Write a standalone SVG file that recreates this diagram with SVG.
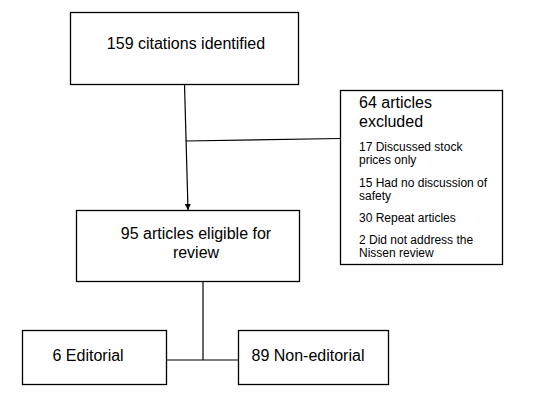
<svg xmlns="http://www.w3.org/2000/svg" width="536" height="420" viewBox="0 0 536 420">
<style>
.box{fill:#fff;stroke:#000;stroke-width:1.3}
.ln{fill:none;stroke:#000;stroke-width:1.2}
.t16{font-family:"Liberation Sans",Arial,sans-serif;font-size:16px;fill:#000}
.t12{font-family:"Liberation Sans",Arial,sans-serif;font-size:12px;fill:#000}
</style>
<defs>
<marker id="arr" viewBox="0 0 10 10" refX="10" refY="5" markerWidth="6" markerHeight="6" orient="auto" markerUnits="userSpaceOnUse">
<path d="M0,0 L10,5 L0,10 z" fill="#000"/>
</marker>
</defs>
<rect width="536" height="420" fill="#fff"/>
<g id="connectors">
<line class="ln" x1="184.5" y1="84" x2="188" y2="210" marker-end="url(#arr)"/>
<line class="ln" x1="185.5" y1="141" x2="340.5" y2="138.5"/>
<line class="ln" x1="203" y1="282" x2="203" y2="360"/>
<line class="ln" x1="166.5" y1="360" x2="238.5" y2="360"/>
</g>
<g id="n1">
<rect class="box" x="70.5" y="12.5" width="228" height="72"/>
<text class="t16" x="186" y="49" text-anchor="middle">159 citations identified</text>
</g>
<g id="n2">
<rect class="box" x="340.5" y="90.5" width="162" height="174"/>
<text class="t16" x="359" y="108">64 articles</text>
<text class="t16" x="359" y="127">excluded</text>
<text class="t12" x="359" y="150.5">17 Discussed stock</text>
<text class="t12" x="359" y="164">prices only</text>
<text class="t12" x="359" y="186.5">15 Had no discussion of</text>
<text class="t12" x="359" y="199.5">safety</text>
<text class="t12" x="359" y="222">30 Repeat articles</text>
<text class="t12" x="359" y="243.5">2 Did not address the</text>
<text class="t12" x="359" y="257">Nissen review</text>
</g>
<g id="n3">
<rect class="box" x="76.5" y="210.5" width="223" height="71"/>
<text class="t16" x="196" y="239" text-anchor="middle">95 articles eligible for</text>
<text class="t16" x="196" y="258" text-anchor="middle">review</text>
</g>
<g id="n4">
<rect class="box" x="22.5" y="330.5" width="144" height="54"/>
<text class="t16" x="52.5" y="361">6 Editorial</text>
</g>
<g id="n5">
<rect class="box" x="238.5" y="330.5" width="150" height="54"/>
<text class="t16" x="251.5" y="361">89 Non-editorial</text>
</g>
</svg>
